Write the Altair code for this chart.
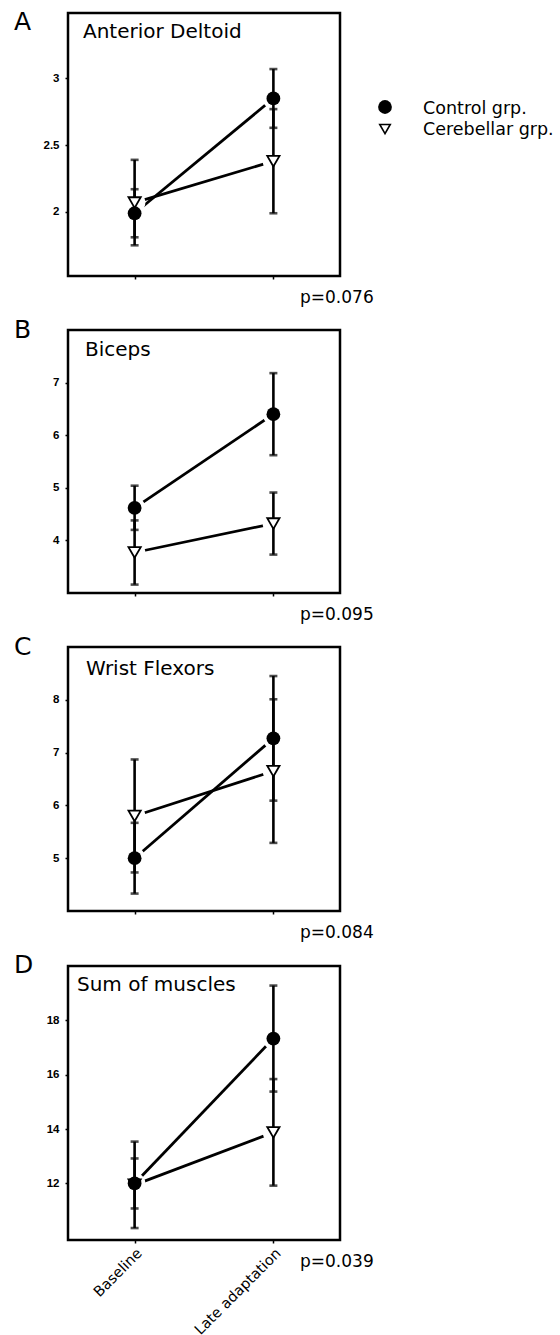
import altair as alt
import pandas as pd

# ---- data ----
phases = ["Baseline", "Late adaptation"]
groups = ["Control grp.", "Cerebellar grp."]
muscles = ["Anterior Deltoid", "Biceps", "Wrist Flexors", "Sum of muscles"]
letters = ["A", "B", "C", "D"]
p_values = ["p=0.076", "p=0.095", "p=0.084", "p=0.039"]

control_mean = [[1.99, 2.85], [4.62, 6.40], [5.00, 7.27], [12.00, 17.33]]
control_err = [[0.18, 0.22], [0.42, 0.78], [0.67, 1.18], [0.92, 1.95]]
cereb_mean = [[2.07, 2.38], [3.77, 4.32], [5.80, 6.65], [11.95, 13.88]]
cereb_err = [[0.32, 0.39], [0.61, 0.59], [1.07, 1.36], [1.59, 1.96]]

y_domains = [[1.52, 3.49], [3.0, 8.0], [4.0, 9.0], [9.92, 20.0]]
y_ticks = [[2, 2.5, 3], [4, 5, 6, 7], [5, 6, 7, 8], [12, 14, 16, 18]]

# ---- layout (pixels) ----
W = 272
heights = [263, 263, 264, 274]
title_dx = [15, 17, 18, 9]
title_dy = [25, 26, 28, 25]
letter_dy = [17, 8, 8, 7]
FONT = "DejaVu Sans"
TICKFONT = "Liberation Sans"


def panel_df(i):
    rows = []
    for g, means, errs in ((groups[0], control_mean, control_err),
                           (groups[1], cereb_mean, cereb_err)):
        for k, ph in enumerate(phases):
            m, e = means[i][k], errs[i][k]
            rows.append({"phase": ph, "group": g, "mean": m, "lo": m - e, "hi": m + e})
    return pd.DataFrame(rows)


def panel(i):
    h = heights[i]
    df = panel_df(i)
    last = i == len(muscles) - 1
    xaxis = alt.Axis(
        title=None, domain=False, grid=False, ticks=True, tickSize=3, tickWidth=1.5,
        tickColor="black", labels=last, labelAngle=-45, labelFontSize=14.5,
        labelFont=FONT, labelColor="black", labelPadding=3,
    )
    yaxis = alt.Axis(
        title=None, domain=False, grid=False, values=y_ticks[i], labelExpr="datum.value + ''",
        tickSize=3, tickWidth=1.5, tickColor="black", labelFontSize=11.5, labelFontWeight="bold",
        labelFont=TICKFONT, labelColor="black", labelPadding=6,
    )
    xs = alt.X("phase:N", scale=alt.Scale(type="point", domain=phases, padding=0.48),
               axis=xaxis, sort=phases)
    ysc = alt.Scale(domain=y_domains[i], nice=False, zero=False)
    base = alt.Chart(df).encode(x=xs)

    lines = base.mark_line(color="black", strokeWidth=2.8).encode(
        y=alt.Y("mean:Q", scale=ysc, axis=yaxis), detail="group:N")
    halo = base.mark_point(shape="circle", filled=True, color="white", size=460, opacity=1).encode(
        y="mean:Q")
    bars = base.mark_rule(color="black", strokeWidth=2.6).encode(y="lo:Q", y2="hi:Q")
    cap_hi = base.mark_tick(color="black", size=8, thickness=2.6, orient="horizontal").encode(y="hi:Q")
    cap_lo = base.mark_tick(color="black", size=8, thickness=2.6, orient="horizontal").encode(y="lo:Q")
    tri = base.transform_filter(alt.datum.group == groups[1]).mark_point(
        shape="triangle-down", filled=True, fill="white", stroke="black", strokeWidth=1.8,
        size=150, opacity=1).encode(y="mean:Q")
    circ = base.transform_filter(alt.datum.group == groups[0]).mark_point(
        shape="circle", filled=True, color="black", size=190, opacity=1).encode(y="mean:Q")

    txt = alt.Chart(pd.DataFrame({"t": [muscles[i]]})).mark_text(
        align="left", baseline="alphabetic", fontSize=20, font=FONT, color="black").encode(
        text="t:N", x=alt.value(title_dx[i]), y=alt.value(title_dy[i]))
    let = alt.Chart(pd.DataFrame({"t": [letters[i]]})).mark_text(
        align="left", baseline="alphabetic", fontSize=25, font=FONT, color="black").encode(
        text="t:N", x=alt.value(-54), y=alt.value(letter_dy[i]))
    pv = alt.Chart(pd.DataFrame({"t": [p_values[i]]})).mark_text(
        align="left", baseline="alphabetic", fontSize=17, font=FONT, color="black").encode(
        text="t:N", x=alt.value(W - 40), y=alt.value(h + 27))

    layers = [lines, halo, bars, cap_hi, cap_lo, tri, circ, txt, let, pv]

    if i == 0:
        leg_c = alt.Chart(pd.DataFrame({"g": [groups[0]]})).mark_point(
            shape="circle", filled=True, color="black", size=190, opacity=1).encode(
            x=alt.value(317), y=alt.value(94))
        leg_t = alt.Chart(pd.DataFrame({"g": [groups[1]]})).mark_point(
            shape="triangle-down", filled=True, fill="white", stroke="black", strokeWidth=1.6,
            size=110, opacity=1).encode(x=alt.value(317), y=alt.value(116))
        leg_txt_c = alt.Chart(pd.DataFrame({"g": [groups[0]]})).mark_text(
            align="left", baseline="middle", fontSize=17.5, font=FONT, color="black").encode(
            text="g:N", x=alt.value(355), y=alt.value(96))
        leg_txt_t = alt.Chart(pd.DataFrame({"g": [groups[1]]})).mark_text(
            align="left", baseline="middle", fontSize=17.5, font=FONT, color="black").encode(
            text="g:N", x=alt.value(355), y=alt.value(117))
        layers += [leg_c, leg_t, leg_txt_c, leg_txt_t]

    return alt.layer(*layers).properties(width=W, height=h)


chart = alt.vconcat(*[panel(i) for i in range(4)], spacing=8).properties(
    padding={"left": 12, "top": 8, "right": 2, "bottom": 2},
    background="white",
).configure_view(stroke="black", strokeWidth=2.5)

chart.save("out.html", embed_options={"renderer": "svg", "actions": False})
